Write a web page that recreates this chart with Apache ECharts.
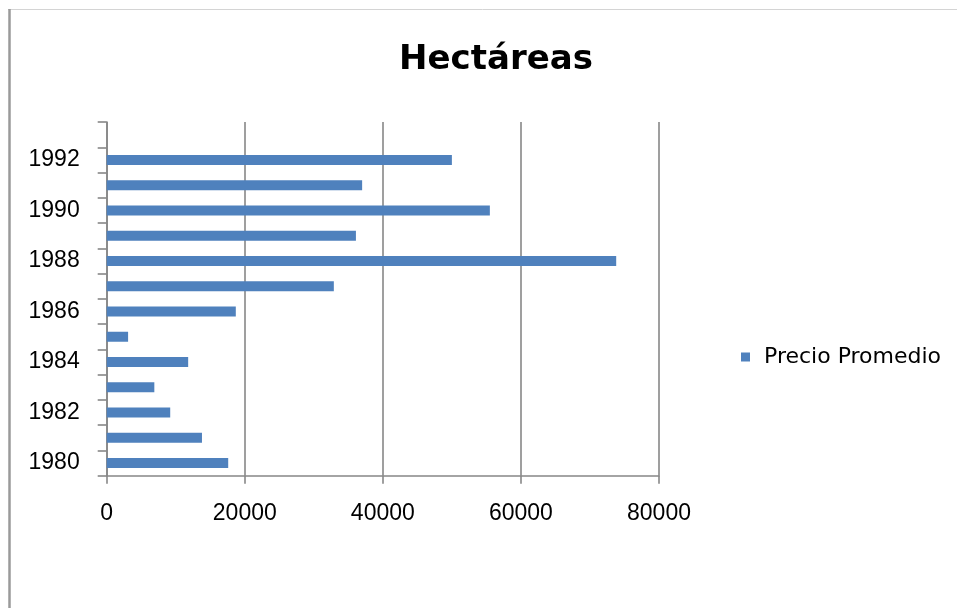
<!DOCTYPE html>
<html>
<head>
<meta charset="utf-8">
<script src="https://cdn.jsdelivr.net/npm/echarts@6/dist/echarts.min.js"></script>
<style>
html,body{margin:0;padding:0;background:#fff;}
#chart{width:957px;height:608px;}
</style>
</head>
<body>
<div id="chart"></div>
<script>
var chartTitle = 'Hectáreas';
var seriesName = 'Precio Promedio';
var years = ['1980','1981','1982','1983','1984','1985','1986','1987','1988','1989','1990','1991','1992','1993'];
var values = [17600, 13800, 9200, 6900, 11800, 3100, 18700, 32900, 73800, 36100, 55500, 37000, 50000, null];
var xTicks = [0, 20000, 40000, 60000, 80000];

var chart = echarts.init(document.getElementById('chart'), null, {renderer: 'canvas'});
var gray = '#878787';
chart.setOption({
  backgroundColor: '#ffffff',
  animation: false,
  title: {
    text: chartTitle,
    left: 491,
    top: 38,
    textAlign: 'center',
    textStyle: {fontFamily: 'DejaVu Sans', fontWeight: 'bold', fontSize: 34, color: '#000'}
  },
  legend: {
    left: 736,
    top: 341,
    itemWidth: 9,
    itemHeight: 9,
    icon: 'rect',
    data: [seriesName],
    textStyle: {fontFamily: 'DejaVu Sans', fontSize: 22, color: '#000', padding: [0, 0, 0, 9]}
  },
  grid: {left: 106.7, right: 298, top: 122, bottom: 132.3, containLabel: false},
  xAxis: {
    type: 'value',
    min: xTicks[0],
    max: xTicks[xTicks.length - 1],
    interval: xTicks[1] - xTicks[0],
    axisLine: {show: true, lineStyle: {color: gray, width: 1.6}},
    axisTick: {show: true, inside: false, length: 8, lineStyle: {color: gray, width: 1.6}},
    splitLine: {show: true, lineStyle: {color: gray, width: 1.6}},
    axisLabel: {margin: 26, fontFamily: 'Liberation Sans', fontSize: 23, color: '#000',
      formatter: function (v) { return String(v); }}
  },
  yAxis: {
    type: 'category',
    data: years,
    boundaryGap: true,
    axisLine: {show: true, lineStyle: {color: gray, width: 1.6}},
    axisTick: {show: true, inside: false, length: 9, interval: 0, lineStyle: {color: gray, width: 1.6}},
    axisLabel: {interval: 1, margin: 27, fontFamily: 'Liberation Sans', fontSize: 23, color: '#000', padding: [5, 0, 0, 0]},
    splitLine: {show: false}
  },
  series: [{
    name: seriesName,
    type: 'bar',
    data: values,
    barWidth: 10,
    itemStyle: {color: '#4f81bd'}
  }],
  graphic: [
    {type: 'line', shape: {x1: 8, y1: 9.5, x2: 957, y2: 9.5}, style: {stroke: '#d4d4d4', lineWidth: 1}, silent: true},
    {type: 'line', shape: {x1: 9.5, y1: 9, x2: 9.5, y2: 608}, style: {stroke: '#9a9a9a', lineWidth: 2.5}, silent: true}
  ]
});
</script>
</body>
</html>
